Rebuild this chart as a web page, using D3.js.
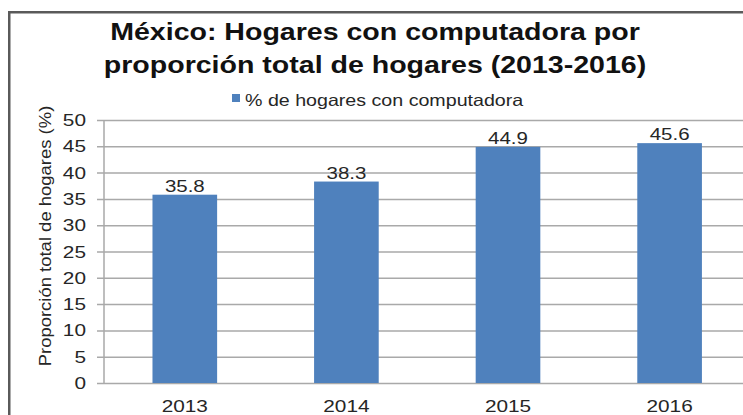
<!DOCTYPE html>
<html>
<head>
<meta charset="utf-8">
<script src="https://cdn.jsdelivr.net/npm/d3@7/dist/d3.min.js"></script>
<style>
  html, body { margin: 0; padding: 0; background: #fff; }
  svg { display: block; font-family: "Liberation Sans", Arial, sans-serif; }
</style>
</head>
<body>
<svg id="chart" width="743" height="415"></svg>
<script>
// Chart data
const titleLines = ["México: Hogares con computadora por", "proporción total de hogares (2013-2016)"];
const seriesName = "% de hogares con computadora";
const yAxisTitle = "Proporción total de hogares (%)";
const years = ["2013", "2014", "2015", "2016"];
const households = [35.8, 38.3, 44.9, 45.6];
const yTicks = [0, 5, 10, 15, 20, 25, 30, 35, 40, 45, 50];

const svg = d3.select("#chart");
const barColor = "#4f81bd";
const gridColor = "#a9a9a9";
const textColor = "#262626";

// Plot area
const plot = { left: 104, right: 750.4, top: 120, bottom: 383 };

const x = d3.scaleBand()
  .domain(years)
  .range([plot.left, plot.right])
  .paddingInner(0.6)
  .paddingOuter(0.3);

const y = d3.scaleLinear()
  .domain([0, 50])
  .range([plot.bottom, plot.top]);

// Outer frame
svg.append("rect")
  .attr("x", 9.25).attr("y", 12.25)
  .attr("width", 800).attr("height", 500)
  .attr("fill", "none")
  .attr("stroke", "#5a5a5a")
  .attr("stroke-width", 2.5);

// Wide-set text helper: glyphs are stretched along the baseline
function wideText(g, str, px, py, size, sx, opts = {}) {
  const t = g.append("text")
    .attr("transform", `translate(${px},${py})${opts.rotate ? ` rotate(${opts.rotate})` : ""} scale(${sx},1)`)
    .attr("font-size", size)
    .attr("fill", opts.fill || textColor)
    .attr("text-anchor", opts.anchor || "middle")
    .text(str);
  if (opts.bold) t.attr("font-weight", "bold");
  return t;
}

// Title
titleLines.forEach((line, i) => {
  wideText(svg, line, 375, 40 + i * 33, 24, 1.19, { bold: true, fill: "#111" });
});

// Legend
svg.append("rect")
  .attr("x", 232).attr("y", 94)
  .attr("width", 8).attr("height", 8)
  .attr("fill", barColor);
wideText(svg, seriesName, 245, 106, 16.5, 1.19, { anchor: "start" });

// Horizontal gridlines with the y axis
const yAxis = d3.axisLeft(y)
  .tickValues(yTicks)
  .tickSize(-(743 - plot.left))
  .tickFormat("");
const yAxisG = svg.append("g")
  .attr("transform", `translate(${plot.left},0)`)
  .call(yAxis);
yAxisG.select(".domain").remove();
yAxisG.selectAll(".tick line")
  .attr("x1", -7)
  .attr("stroke", gridColor)
  .attr("stroke-width", 1.5);

// Vertical axis line
svg.append("line")
  .attr("x1", plot.left).attr("x2", plot.left)
  .attr("y1", y(50)).attr("y2", y(0))
  .attr("stroke", gridColor)
  .attr("stroke-width", 1.5);

// Y tick labels
const tickG = svg.append("g");
yTicks.forEach(v => {
  wideText(tickG, String(v), 86, y(v) + 6, 16, 1.3, { anchor: "end" });
});

// Y axis title
wideText(svg, yAxisTitle, 51, 236, 16.5, 1.12, { rotate: -90 });

// Bars
svg.append("g").selectAll("rect")
  .data(years)
  .join("rect")
  .attr("x", d => x(d))
  .attr("width", x.bandwidth())
  .attr("y", (d, i) => y(households[i]))
  .attr("height", (d, i) => y(0) - y(households[i]))
  .attr("fill", barColor);

// Value labels
const valG = svg.append("g");
years.forEach((yr, i) => {
  wideText(valG, households[i].toFixed(1), x(yr) + x.bandwidth() / 2, y(households[i]) - 3, 16, 1.28);
});

// Category labels
const catG = svg.append("g");
years.forEach(yr => {
  wideText(catG, yr, x(yr) + x.bandwidth() / 2, 412, 16, 1.3);
});
</script>
</body>
</html>
